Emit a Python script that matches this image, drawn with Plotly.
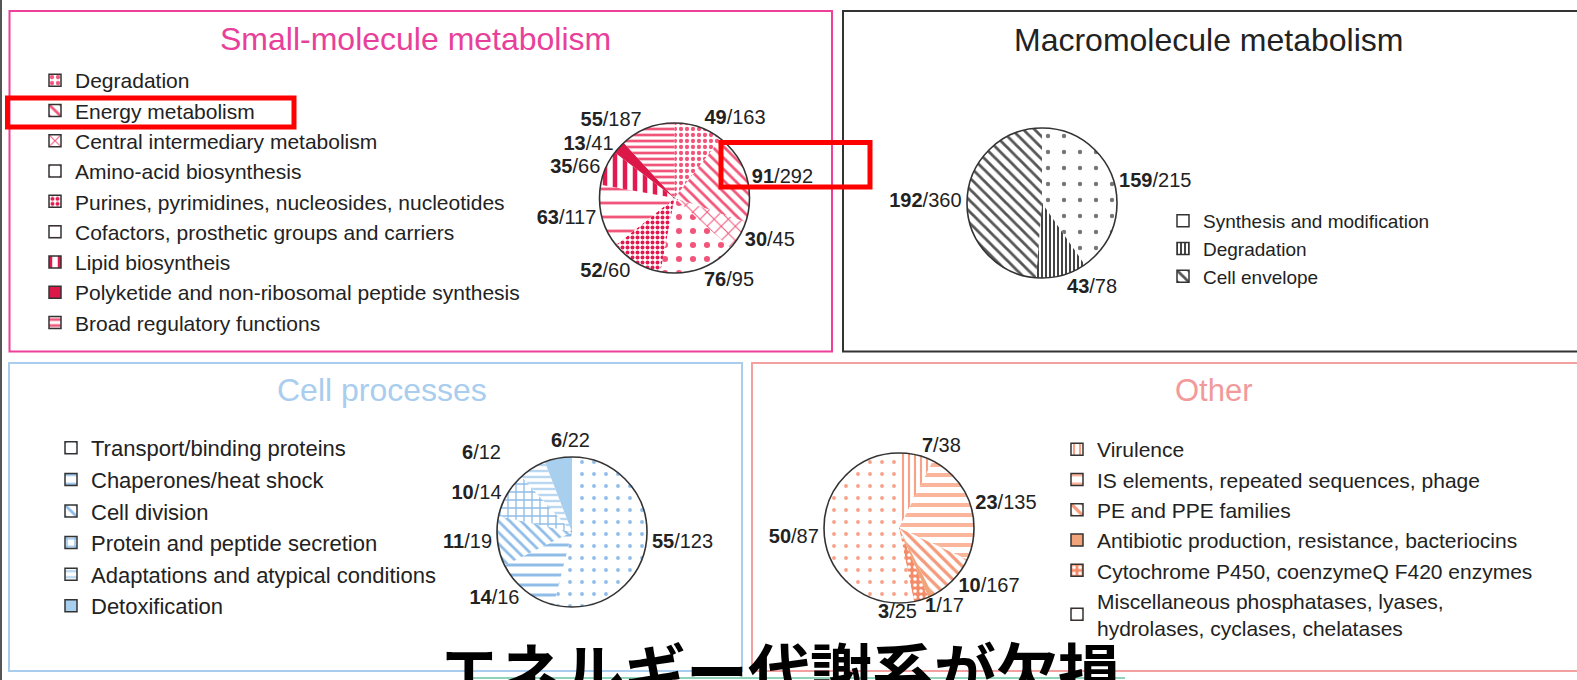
import plotly.graph_objects as go

W, H = 1577, 680

# ---------------- data ----------------
sm_labels = ["Degradation", "Energy metabolism", "Central intermediary metabolism",
             "Amino-acid biosynthesis", "Purines, pyrimidines, nucleosides, nucleotides",
             "Cofactors, prosthetic groups and carriers", "Lipid biosyntheis",
             "Polyketide and non-ribosomal peptide synthesis", "Broad regulatory functions"]
sm_found = [49, 91, 30, 76, 52, 63, 35, 13, 55]
sm_total = [163, 292, 45, 95, 60, 117, 66, 41, 187]

mm_labels = ["Synthesis and modification", "Degradation", "Cell envelope"]
mm_found = [159, 43, 192]
mm_total = [215, 78, 360]

cp_labels = ["Transport/binding proteins", "Chaperones/heat shock", "Cell division",
             "Protein and peptide secretion", "Adaptations and atypical conditions",
             "Detoxification"]
cp_found = [55, 14, 11, 10, 6, 6]
cp_total = [123, 16, 19, 14, 12, 22]

ot_labels = ["Virulence", "IS elements, repeated sequences, phage", "PE and PPE families",
             "Antibiotic production, resistance, bacteriocins",
             "Cytochrome P450, coenzymeQ F420 enzymes",
             "Miscellaneous phosphatases, lyases,<br>hydrolases, cyclases, chelatases"]
ot_found = [7, 23, 10, 1, 3, 50]
ot_total = [38, 135, 167, 17, 25, 87]

# ---------------- styles ----------------
PINK, CRIM = "#f2557a", "#e31a4f"
sm_style = dict(
    shape=[".", "\\", "x", ".", ".", "-", "|", "", "-"],
    fg=[PINK, PINK, PINK, PINK, CRIM, PINK, CRIM, CRIM, PINK],
    bg=["white"] * 7 + ["#dc1848", "white"],
    size=[6, 8, 10, 14, 5, 14, 10, 8, 6],
    sol=[0.4, 0.35, 0.2, 0.15, 0.5, 0.2, 0.45, 0.3, 0.45],
)
mm_style = dict(shape=[".", "|", "\\"], fg=["#777", "#444", "#555"], bg=["white"] * 3,
                size=[16, 4, 8], sol=[0.06, 0.5, 0.35])
BLU = "#8fbde8"
cp_style = dict(shape=[".", "-", "\\", "+", "-", ""], fg=[BLU, BLU, BLU, BLU, "#b9d7f1", BLU],
                bg=["white"] * 5 + ["#a9cfee"], size=[12, 10, 8, 8, 6, 8],
                sol=[0.08, 0.3, 0.35, 0.3, 0.4, 0.3])
SAL = "#f7a286"
ot_style = dict(shape=["|", "-", "\\", "", ".", "."],
                fg=[SAL, "#fbb59b", "#f59a7a", SAL, "white", SAL],
                bg=["white", "white", "white", "#f1a47a", "#f58b68", "white"],
                size=[6, 10, 8, 8, 6, 12], sol=[0.35, 0.4, 0.4, 0.3, 0.3, 0.08])

FONT = "Liberation Sans, Arial, sans-serif"


def px_dom(cx, cy, r):
    return dict(x=[(cx - r) / W, (cx + r) / W], y=[1 - (cy + r) / H, 1 - (cy - r) / H])


fig = go.Figure()
label_anns = []


def add_panel(labels, found, total, st, cx, cy, legend, group, tsize, manual=None):
    # manual: {slice index: (x px, y px)} labels placed as annotations to avoid leader lines
    manual = manual or {}
    r = 75
    dom = px_dom(cx, cy, r)
    pat = dict(shape=st["shape"], fgcolor=st["fg"], bgcolor=st["bg"],
               size=st["size"], solidity=st["sol"], fillmode="replace")
    tiny = px_dom(cx, cy, 0.2)
    fig.add_trace(go.Pie(labels=labels, values=found, sort=False, direction="clockwise",
                         marker=dict(colors=st["bg"], pattern=pat,
                                     line=dict(color="#333", width=1.5)),
                         textinfo="none", hoverinfo="skip", domain=tiny,
                         legend=legend, legendgroup=group, showlegend=True))
    tpos = ["none" if i in manual else "outside" for i in range(len(labels))]
    fig.add_trace(go.Pie(labels=labels, values=found, text=total, sort=False,
                         direction="clockwise", rotation=0,
                         marker=dict(colors=st["bg"], pattern=pat, line=dict(width=0)),
                         texttemplate="<b>%{value}</b>/%{text}", textposition=tpos,
                         textfont=dict(family=FONT, size=tsize, color="#222"),
                         domain=dom, showlegend=False, legendgroup=group + "m",
                         legend=legend))
    fig.add_trace(go.Pie(labels=[" "], values=[1], sort=False,
                         marker=dict(colors=["rgba(0,0,0,0)"], line=dict(color="#333", width=1.6)),
                         textinfo="none", hoverinfo="skip", domain=dom, showlegend=False))
    for i, (lx, ly) in manual.items():
        label_anns.append(dict(text="<b>%d</b>/%d" % (found[i], total[i]), x=lx / W, y=1 - ly / H,
                               xref="paper", yref="paper", showarrow=False,
                               xanchor="center", yanchor="middle",
                               font=dict(family=FONT, size=tsize, color="#222")))


add_panel(sm_labels, sm_found, sm_total, sm_style, 674.5, 198, "legend", "sm", 20)
add_panel(mm_labels, mm_found, mm_total, mm_style, 1042, 203, "legend2", "mm", 20)
add_panel(cp_labels, cp_found, cp_total, cp_style, 572, 532, "legend3", "cp", 20,
          manual={4: (482, 452), 5: (570, 440)})
add_panel(ot_labels, ot_found, ot_total, ot_style, 899, 528, "legend4", "ot", 20,
          manual={3: (944, 605), 4: (897, 611)})


def leg(xpx, ypx, size):
    return dict(x=xpx / W, y=1 - ypx / H, xanchor="left", yanchor="top",
                bgcolor="rgba(0,0,0,0)", font=dict(family=FONT, size=size, color="#222"),
                tracegroupgap=0, traceorder="normal")


shapes = []


def rect(x0, y0, x1, y1, color, width):
    shapes.append(dict(type="rect", xref="paper", yref="paper", x0=x0 / W, x1=x1 / W,
                       y0=1 - y1 / H, y1=1 - y0 / H, line=dict(color=color, width=width),
                       fillcolor="rgba(0,0,0,0)", layer="above"))


rect(9.5, 11, 832, 351.5, "#ee3f9a", 2)
rect(843, 11, 1600, 351.5, "#333333", 2)
rect(9, 363, 742, 671, "#a9cdee", 2)
rect(752, 363, 1600, 671, "#f2a0a0", 2)
rect(7.5, 98, 294, 127, "#ff0000", 5)
rect(721, 142.5, 870, 187, "#ff0000", 5)
shapes.append(dict(type="line", xref="paper", yref="paper", x0=1 / W, x1=1 / W, y0=0, y1=1,
                   line=dict(color="#555", width=2)))
shapes.append(dict(type="line", xref="paper", yref="paper", x0=473 / W, x1=1125 / W,
                   y0=1 - 678 / H, y1=1 - 678 / H, line=dict(color="#8fd3b8", width=2)))


def ann(text, xpx, ypx, size, color, family=FONT, yanchor="middle"):
    return dict(text=text, x=xpx / W, y=1 - ypx / H, xref="paper", yref="paper",
                xanchor="center", yanchor=yanchor, showarrow=False,
                font=dict(family=family, size=size, color=color))


annotations = [
    ann("Small-molecule metabolism", 415, 39, 32, "#e8409a"),
    ann("Macromolecule metabolism", 1208, 40, 32, "#222222"),
    ann("Cell processes", 382, 390, 32, "#a9cdee"),
    ann("Other", 1214, 390, 31, "#f29a9a"),
    ann("<b>エネルギー代謝系が欠損</b>", 779, 669, 62, "#000000",
        family="Noto Sans CJK JP"),
    ann("(B)", 34, -2, 22, "#222", yanchor="bottom"),
] + label_anns

fig.update_layout(
    width=W, height=H, margin=dict(l=0, r=0, t=0, b=0),
    paper_bgcolor="white", plot_bgcolor="white",
    legend=leg(35, 60, 21),
    legend2=leg(1163, 202, 19),
    legend3=leg(51, 427, 22),
    legend4=leg(1057, 429, 21),
    shapes=shapes, annotations=annotations,
)
fig.write_html("out.html")
